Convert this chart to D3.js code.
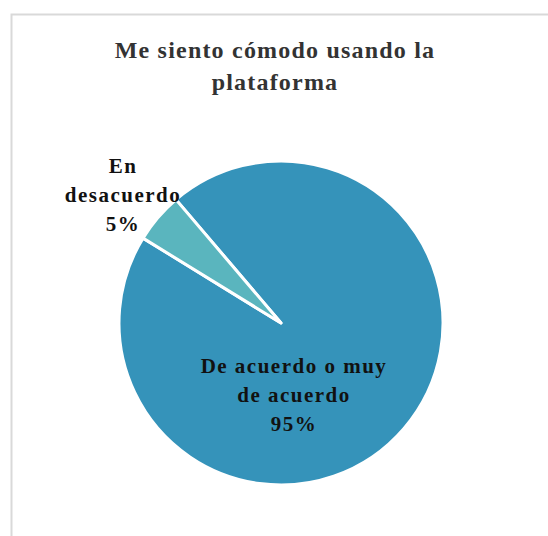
<!DOCTYPE html>
<html>
<head>
<meta charset="utf-8">
<script src="https://cdn.jsdelivr.net/npm/d3@7"></script>
<style>
  body { margin: 0; background: #fff; }
  svg { display: block; }
</style>
</head>
<body>
<svg id="chart" width="548" height="536"></svg>
<script>
// data
var categories = ["De acuerdo o muy de acuerdo", "En desacuerdo"];
var values = [95, 5];
var labelLines = [["De acuerdo o muy", "de acuerdo"], ["En", "desacuerdo"]];
var colors = ["#3593BA", "#5AB5BE"];
var titleLines = ["Me siento  cómodo usando la", "plataforma"];

var svg = d3.select("#chart"),
    width = +svg.attr("width"),
    height = +svg.attr("height");

var fontFamily = "'Liberation Serif', 'DejaVu Serif', serif";

// chart frame (only top and left edges show)
svg.append("rect")
    .attr("x", 11.5).attr("y", 14.5)
    .attr("width", 600).attr("height", 600)
    .attr("fill", "#fff")
    .attr("stroke", "#d9d9d9")
    .attr("stroke-width", 2);

// title
svg.append("text")
    .attr("text-anchor", "middle")
    .attr("font-family", fontFamily)
    .attr("font-weight", "bold")
    .attr("font-size", 24)
    .attr("letter-spacing", 1.2)
    .attr("fill", "#333")
    .selectAll("tspan")
    .data(titleLines)
    .join("tspan")
    .attr("x", 275)
    .attr("y", function(d, i) { return 58 + i * 32; })
    .text(function(d) { return d; });

var cx = 281, cy = 323, radius = 162;
var rot = -40.4 * Math.PI / 180;

var pie = d3.pie().sort(null)
    .startAngle(rot)
    .endAngle(rot + 2 * Math.PI);

var arcs = pie(values);
var arc = d3.arc().innerRadius(0).outerRadius(radius);

var g = svg.append("g").attr("transform", "translate(" + cx + "," + cy + ")");

g.selectAll("path")
    .data(arcs)
    .join("path")
    .attr("d", arc)
    .attr("fill", function(d, i) { return colors[i]; })
    .attr("stroke", "#fff")
    .attr("stroke-width", 3)
    .attr("stroke-linejoin", "round");

var total = d3.sum(values);
var labelPos = [[294, 373], [123, 173]];

svg.selectAll("text.lbl")
    .data(arcs)
    .join("text")
    .attr("class", "lbl")
    .attr("text-anchor", "middle")
    .attr("font-family", fontFamily)
    .attr("font-weight", "bold")
    .attr("font-size", 21)
    .attr("letter-spacing", 1.5)
    .attr("fill", "#111")
    .each(function(d, i) {
        var lines = labelLines[i].concat([Math.round(d.data / total * 100) + "%"]);
        d3.select(this).selectAll("tspan")
            .data(lines)
            .join("tspan")
            .attr("x", labelPos[i][0])
            .attr("y", function(t, j) { return labelPos[i][1] + j * 29; })
            .text(function(t) { return t; });
    });
</script>
</body>
</html>
